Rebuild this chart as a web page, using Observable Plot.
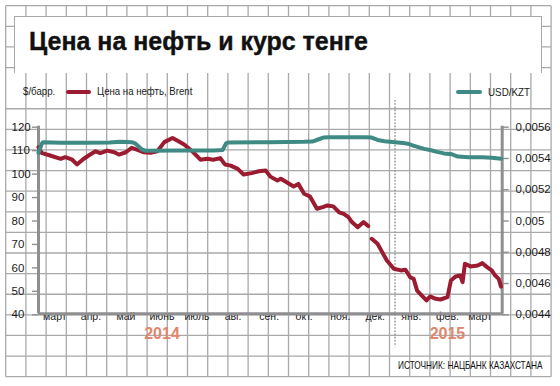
<!DOCTYPE html>
<html>
<head>
<meta charset="utf-8">
<script src="https://cdn.jsdelivr.net/npm/d3@7"></script>
<script src="https://cdn.jsdelivr.net/npm/@observablehq/plot@0.6"></script>
<style>
  html, body { margin: 0; padding: 0; background: #fff; }
  #wrap { position: relative; width: 560px; height: 386px; overflow: hidden; background: #fff; }
  #wrap > * { position: absolute; }
  #grid { left: 0; top: 0; }
  #titlebox { left: 14px; top: 16px; width: 528px; height: 57px; background: #fff;
    border: 1.3px solid #a9a9a9; border-bottom: none; box-sizing: border-box; }
  .t { white-space: nowrap; transform-origin: 0 0; color: #1a1a1a; }
  #title { left: 29px; top: 28.8px; font: bold 25px/25px "Liberation Sans", sans-serif; color: #111; -webkit-text-stroke: 0.4px #111; }
  .leg { font: 10.5px/10.5px "Liberation Sans Narrow", sans-serif; }
  .sw { height: 4px; border-radius: 2px; }
  #caption { left: 398.3px; top: 360.3px; font: 11.5px/11.5px "Liberation Sans Narrow", sans-serif; color: #111; }
  #chart { left: 0; top: 0; }
</style>
</head>
<body>
<div id="wrap">
  <svg id="grid" width="560" height="386"></svg>
  <div id="titlebox"></div>
  <div id="title" class="t">Цена на нефть и курс тенге</div>
  <div id="legUnit" class="t leg" style="left:22.7px; top:85.9px;">$/барр.</div>
  <div class="sw" style="left:66px; top:89.8px; width:25px; background:#9b1b30;"></div>
  <div id="legOil" class="t leg" style="left:97.3px; top:85.9px;">Цена на нефть, Brent</div>
  <div class="sw" style="left:456px; top:89.8px; width:26px; background:#3f8a84;"></div>
  <div id="legKzt" class="t leg" style="left:488px; top:87.2px;">USD/KZT</div>
  <div id="chart"></div>
  <div id="caption" class="t">ИСТОЧНИК: НАЦБАНК КАЗАХСТАНА</div>
</div>
<script>
// ---------------- data ----------------
const oilDates = [
  "2014-03-01","2014-03-04","2014-03-11","2014-03-20","2014-03-24","2014-03-30",
  "2014-04-03","2014-04-08","2014-04-13","2014-04-19","2014-04-23","2014-04-29",
  "2014-05-05","2014-05-09","2014-05-15","2014-05-20","2014-05-25","2014-05-30",
  "2014-06-05","2014-06-11","2014-06-17","2014-06-24","2014-06-28",
  "2014-07-04","2014-07-11","2014-07-18","2014-07-24","2014-07-29",
  "2014-08-04","2014-08-08","2014-08-13","2014-08-19","2014-08-24","2014-08-31",
  "2014-09-06","2014-09-12","2014-09-16","2014-09-22","2014-09-25","2014-09-30",
  "2014-10-06","2014-10-10","2014-10-15","2014-10-20","2014-10-26","2014-10-31",
  "2014-11-04","2014-11-09","2014-11-14","2014-11-18","2014-11-22","2014-11-25","2014-11-30",
  "2014-12-05","2014-12-09","2014-12-10","2014-12-12","2014-12-17","2014-12-21","2014-12-25","2014-12-31",
  "2015-01-06","2015-01-10","2015-01-14","2015-01-17","2015-01-20","2015-01-24","2015-01-28","2015-01-31",
  "2015-02-05","2015-02-09","2015-02-15","2015-02-18","2015-02-22","2015-02-26","2015-02-28",
  "2015-03-02","2015-03-07","2015-03-13","2015-03-17","2015-03-21","2015-03-25","2015-03-28","2015-03-31","2015-04-02"
];
const oilValues = [
  111, 108.5, 107.5, 106.1, 106.8, 105.7,
  103.7, 105.8, 107.5, 109.3, 108.5, 109.6,
  108.9, 107.9, 108.9, 110.8, 109.9, 108.9,
  108.7, 109.3, 113.2, 115.0, 113.9,
  112.2, 109.3, 105.7, 106.1, 105.7,
  106.4, 103.7, 103.2, 101.8, 99.4, 100.0,
  100.8, 101.1, 98.5, 96.8, 97.6, 96.1,
  94.3, 95.4, 91.2, 90.0, 84.8, 85.5,
  86.2, 85.8, 83.3, 82.6, 81.2, 79.1, 76.9,
  79.1, 77.4, null, 72.0, 69.9, 66.3, 62.7, 59.2,
  58.5, 58.8, 55.6, 54.9, 49.9, 47.8, 45.7, 47.4,
  46.4, 46.1, 47.1, 54.2, 55.9, 56.3, 53.5,
  61.3, 60.2, 60.6, 61.6, 59.9, 58.5, 56.3, 54.9, 51.6
];
const kztDates = [
  "2014-03-01","2014-03-04","2014-03-05","2014-03-20","2014-04-10","2014-05-01","2014-05-10","2014-05-20",
  "2014-05-23","2014-05-26","2014-05-29","2014-06-01","2014-07-01","2014-07-30","2014-08-06","2014-08-09",
  "2014-08-11","2014-09-15","2014-10-15","2014-10-22","2014-10-27","2014-11-01","2014-11-05","2014-12-07",
  "2014-12-12","2014-12-17","2014-12-23","2015-01-01","2015-01-08","2015-01-12","2015-01-16","2015-01-21",
  "2015-01-26","2015-02-01","2015-02-06","2015-02-12","2015-02-19","2015-02-24","2015-03-05","2015-03-17",
  "2015-03-25","2015-04-02"
];
const kztValues = [
  0.00543, 0.00549, 0.005498, 0.005494, 0.005494, 0.005496, 0.0055, 0.005498,
  0.00549, 0.00547, 0.00545, 0.005443, 0.005445, 0.005445, 0.005447, 0.00549,
  0.005496, 0.005497, 0.0055, 0.005502, 0.005515, 0.005528, 0.00553, 0.00553,
  0.005527, 0.005512, 0.005504, 0.005498, 0.005492, 0.005488, 0.005478, 0.005466,
  0.005455, 0.005446, 0.005436, 0.005426, 0.00542, 0.005406, 0.005402, 0.005402,
  0.005398, 0.005392
];
const leftTicks = [40, 50, 60, 70, 80, 90, 100, 110, 120];
const rightTicks = [0.0044, 0.0046, 0.0048, 0.005, 0.0052, 0.0054, 0.0056];
const monthLabels = ["март","апр.","май","июнь","июль","авг.","сен.","окт.","ноя.","дек.","янв.","фев.","март"];
const monthDates = ["2014-03-15","2014-04-15","2014-05-15","2014-06-15","2014-07-15","2014-08-15","2014-09-15",
                    "2014-10-15","2014-11-15","2014-12-15","2015-01-15","2015-02-15","2015-03-15"];
const yearLabels = ["2014", "2015"];
const yearDates = ["2014-06-15", "2015-02-15"];
const yearBreak = "2015-01-01";
const xDomain = ["2014-03-01", "2015-04-03"];

// ---------------- helpers ----------------
const D = s => new Date(s + "T00:00:00Z");
const leftDom = [40, 120], rightDom = [0.0044, 0.0056];
const toLeft = v => v == null ? NaN : leftDom[0] + (v - rightDom[0]) / (rightDom[1] - rightDom[0]) * (leftDom[1] - leftDom[0]);
const fromLeft = y => rightDom[0] + (y - leftDom[0]) / (leftDom[1] - leftDom[0]) * (rightDom[1] - rightDom[0]);

const oil = oilDates.map((d, i) => ({date: D(d), v: oilValues[i] == null ? NaN : oilValues[i]}));
const kzt = kztDates.map((d, i) => ({date: D(d), v: toLeft(kztValues[i])}));
const months = monthDates.map((d, i) => ({date: D(d), label: monthLabels[i]}));
const years = yearDates.map((d, i) => ({date: D(d), label: yearLabels[i]}));

// ---------------- decorative graph paper ----------------
(function () {
  const g = d3.select("#grid");
  const x0 = 5.7, y0 = 5.7, cw = 20.2, ch = 20.61, nc = 27, nr = 18;
  for (let i = 0; i <= nc; i++) {
    g.append("line").attr("x1", x0 + i * cw).attr("x2", x0 + i * cw)
      .attr("y1", y0).attr("y2", y0 + nr * ch).attr("stroke", "#a9a9a9").attr("stroke-width", 1.3);
  }
  for (let j = 0; j <= nr; j++) {
    if (j === 4) continue; // legend row has no horizontal rule
    g.append("line").attr("y1", y0 + j * ch).attr("y2", y0 + j * ch)
      .attr("x1", x0).attr("x2", x0 + nc * cw).attr("stroke", "#a9a9a9").attr("stroke-width", 1.3);
  }
})();

// ---------------- chart ----------------
const axisGray = "#8f8f92";
const chart = Plot.plot({
  width: 560,
  height: 386,
  marginLeft: 38,
  marginRight: 58.3,
  marginTop: 125.7,
  marginBottom: 72.7,
  style: {background: "transparent", fontFamily: "'Liberation Sans Narrow', sans-serif", fontSize: "11.5px", color: "#1a1a1a", overflow: "visible"},
  x: {type: "utc", domain: xDomain.map(D), axis: null},
  y: {domain: leftDom, axis: null},
  marks: [
    Plot.ruleX([D(yearBreak)], {stroke: "#9a9a9a", strokeWidth: 1.6, strokeDasharray: "1.6,1.6", insetTop: -25.7, insetBottom: -33.4}),
    Plot.axisY(leftTicks, {anchor: "left", tickSize: 6, tickPadding: 21, textAnchor: "start", dy: 1,
      stroke: axisGray, strokeWidth: 1.4, fill: "#1a1a1a", label: null, tickFormat: d => String(d)}),
    Plot.axisY(rightTicks.map(toLeft), {anchor: "right", tickSize: 6, tickPadding: 7.3, dy: 1,
      stroke: axisGray, strokeWidth: 1.4, fill: "#1a1a1a", label: null,
      tickFormat: d => String(+fromLeft(d).toFixed(4)).replace(".", ",")}),
    Plot.text(months, {x: "date", text: "label", frameAnchor: "bottom", dy: 6,
      fontFamily: "'Liberation Sans', sans-serif", fontSize: 10.5, fill: "#1a1a1a"}),
    Plot.text(years, {x: "date", text: "label", frameAnchor: "bottom", dy: 25,
      fontFamily: "'Liberation Sans', sans-serif", fontWeight: "bold", fontSize: 16, fill: "#e0866c"}),
    Plot.ruleX([D(xDomain[0]), D(xDomain[1])], {stroke: axisGray, strokeWidth: 3}),
    Plot.ruleY([leftDom[0]], {stroke: axisGray, strokeWidth: 3, insetRight: -1.5}),
    Plot.line(oil, {x: "date", y: "v", stroke: "#9b1b30", strokeWidth: 4, strokeLinejoin: "round", strokeLinecap: "round"}),
    Plot.line(kzt, {x: "date", y: "v", stroke: "#3f8a84", strokeWidth: 4, strokeLinejoin: "round", strokeLinecap: "round"})
  ]
});
document.getElementById("chart").appendChild(chart);

// ---------------- fit text widths to the reference ----------------
function fit(id, w) {
  const el = document.getElementById(id);
  const r = el.getBoundingClientRect().width;
  if (r > 0) el.style.transform = `scaleX(${w / r})`;
}
fit("title", 339);
fit("legUnit", 32.3);
fit("legOil", 95.4);
fit("legKzt", 42);
fit("caption", 144.4);
</script>
</body>
</html>
